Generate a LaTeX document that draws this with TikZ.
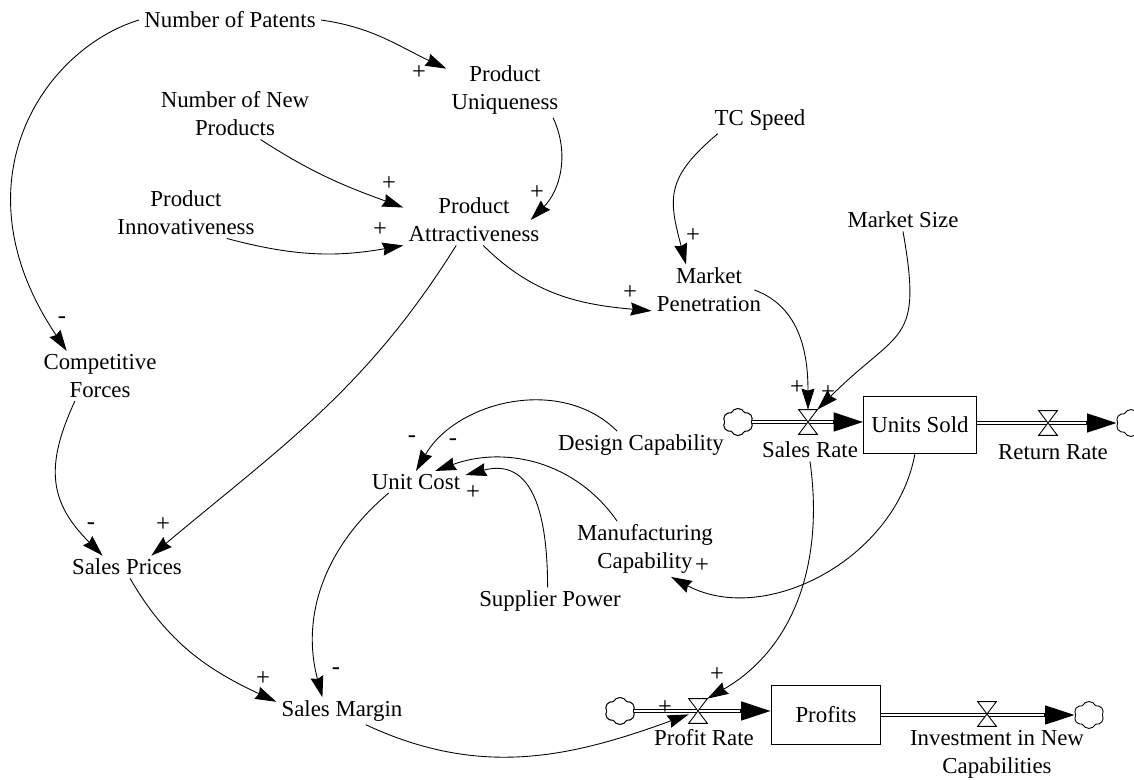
\documentclass[tikz,border=0pt]{standalone}
\usepackage{fontspec}
\setmainfont{Liberation Serif}
\usetikzlibrary{arrows.meta,shapes.symbols}
\begin{document}
\begin{tikzpicture}[x=0.02cm,y=0.02cm,
  font=\fontsize{13}{16}\selectfont,
  var/.style={align=center, inner xsep=0.1cm, inner ysep=0.06cm},
  link/.style={line width=0.5pt, -{Stealth[length=0.42cm,width=0.26cm,inset=0.04cm]}},
  sign/.style={inner sep=0pt, font=\fontsize{14}{14}\selectfont},
  stock/.style={inner sep=0pt, fill=white},
  stockline/.style={line width=0.5pt},
  pipeouter/.style={line width=0.09cm, -{Triangle[length=0.6cm,width=0.36cm]}},
  pipeinner/.style={line width=0.055cm, white, shorten >=0.62cm},
  valve/.style={inner sep=0pt, minimum width=0.36cm, minimum height=0.48cm},
  valveline/.style={line width=0.5pt, fill=white, line join=miter},
  flowcloud/.style={cloud, cloud puffs=6, cloud puff arc=130, aspect=1.1, draw, fill=white,
    line width=0.5pt, minimum width=0.6cm, minimum height=0.54cm, inner sep=0pt}]

% page
\fill[white] (0,0) rectangle (1134,-780);
\useasboundingbox (0,0) rectangle (1134,-780);

% auxiliary variables
\node[var] (pat)    at (230,-20)  {Number of Patents};
\node[var] (uniq)   at (505,-90)  {Product\\Uniqueness};
\node[var] (newp)   at (235,-114) {Number of New\\Products};
\node[var] (innov)  at (186,-213) {Product\\Innovativeness};
\node[var] (attr)   at (474,-220) {Product\\Attractiveness};
\node[var] (tc)     at (760,-120) {TC Speed};
\node[var] (msize)  at (903,-220) {Market Size};
\node[var] (mpen)   at (709,-290) {Market\\Penetration};
\node[var] (comp)   at (100,-376) {Competitive\\Forces};
\node[var] (design) at (641,-445) {Design Capability};
\node[var] (ucost)  at (416,-482) {Unit Cost};
\node[var] (manu)   at (645,-549) {Manufacturing\\Capability};
\node[var] (supp)   at (550,-601) {Supplier Power};
\node[var] (sprice) at (127,-567) {Sales Prices};
\node[var] (smargin) at (342,-711) {Sales Margin};

% stocks
\node[stock, minimum width=2.24cm, minimum height=1.12cm] (units) at (920,-425) {Units Sold};
\node[stock, minimum width=2.18cm, minimum height=1.16cm] (profits) at (826,-715) {Profits};

% sources and sinks
\node[flowcloud] (cloudA) at (738,-422) {};
\node[flowcloud] (cloudB) at (1131,-423) {};
\node[flowcloud] (cloudC) at (620,-711) {};
\node[flowcloud] (cloudD) at (1089,-715) {};

% valves
\node[valve] (srv) at (808,-422) {};
\node[valve] (rrv) at (1048,-423) {};
\node[valve] (prv) at (698,-711) {};
\node[valve] (inv) at (987,-714) {};

% flow pipes
\draw[pipeouter] (cloudA.east) -- (cloudA.east -| units.west);
\draw[pipeinner] (cloudA.east) -- (cloudA.east -| units.west);
\draw[pipeouter] (units.east |- cloudB.west) -- (cloudB.west);
\draw[pipeinner] (units.east |- cloudB.west) -- (cloudB.west);
\draw[pipeouter] (cloudC.east) -- (cloudC.east -| profits.west);
\draw[pipeinner] (cloudC.east) -- (cloudC.east -| profits.west);
\draw[pipeouter] (profits.east |- cloudD.west) -- (cloudD.west);
\draw[pipeinner] (profits.east |- cloudD.west) -- (cloudD.west);

% clouds and stock outlines over the pipe ends
\node[flowcloud] at (cloudA) {};
\node[flowcloud] at (cloudC) {};
\draw[stockline] (units.south west) rectangle (units.north east);
\draw[stockline] (profits.south west) rectangle (profits.north east);

% valve bowties
\foreach \v in {srv,rrv,prv,inv}
  \draw[valveline] (\v.north west) -- (\v.north east) -- (\v.south west) -- (\v.south east) -- cycle;

% flow labels
\node[var] (srlab)  at (810,-450)  {Sales Rate};
\node[var] (rrlab)  at (1053,-452) {Return Rate};
\node[var] (prlab)  at (704,-738)  {Profit Rate};
\node[var] (invlab) at (997,-754)  {Investment in New\\Capabilities};

% causal links
\draw[link] (pat.east) to[out=-8,in=155] (uniq.160);
\draw[link] (pat.west) .. controls (44,-49) and (-47,-182) .. (comp.143);
\draw[link] (newp.-45) to[out=-33,in=160] (attr.170);
\draw[link] (innov.-32) to[out=-15,in=190] (attr.south west);
\draw[link] (uniq.-30) to[out=-65,in=45] ([shift={(-14,0)}]attr.east);
\draw[link] (attr.-70) to[out=-45,in=175] (mpen.200);
\draw[link] (attr.-125) to[out=-122,in=40] (sprice.25);
\draw[link] (tc.-162) to[out=-140,in=105,looseness=1.3] (mpen.132);
\draw[link] ([shift={(-12,0)}]mpen.east) to[out=-20,in=90] (srv.north);
\draw[link] (msize.south) to[out=-80,in=45,looseness=1.5] (srv.north east);
\draw[link] (comp.-135) to[out=-115,in=135,looseness=1.2] (sprice.155);
\draw[link] (design.150) to[out=135,in=60] (ucost.north);
\draw[link] (manu.135) to[out=125,in=20] (ucost.30);
\draw[link] (supp.100) to[out=90,in=15,looseness=1.3] (ucost.8);
\draw[link] (units.-100) to[out=-100,in=-28] (manu.-47);
\draw[link] (sprice.-75) to[out=-60,in=155] (smargin.172);
\draw[link] (ucost.-158) to[out=-140,in=105] (smargin.145);
\draw[link] (srlab.south) to[out=-82,in=30] (prv.north east);
\draw[link] (smargin.-30) to[out=-25,in=200] (prv.200);

% polarities
\node[sign] (s1)  at (419,-73)  {+};
\node[sign] (s2)  at (62,-320)  {-};
\node[sign] (s3)  at (389,-184) {+};
\node[sign] (s4)  at (380,-230) {+};
\node[sign] (s5)  at (537,-193) {+};
\node[sign] (s6)  at (630,-293) {+};
\node[sign] (s7)  at (163,-525) {+};
\node[sign] (s8)  at (693,-236) {+};
\node[sign] (s9)  at (797,-388) {+};
\node[sign] (s10) at (828,-393) {+};
\node[sign] (s11) at (91,-526)  {-};
\node[sign] (s12) at (412,-439) {-};
\node[sign] (s13) at (453,-442) {-};
\node[sign] (s14) at (473,-493) {+};
\node[sign] (s15) at (702,-566) {+};
\node[sign] (s16) at (263,-679) {+};
\node[sign] (s17) at (336,-671) {-};
\node[sign] (s18) at (717,-675) {+};
\node[sign] (s19) at (665,-708) {+};
\end{tikzpicture}
\end{document}
